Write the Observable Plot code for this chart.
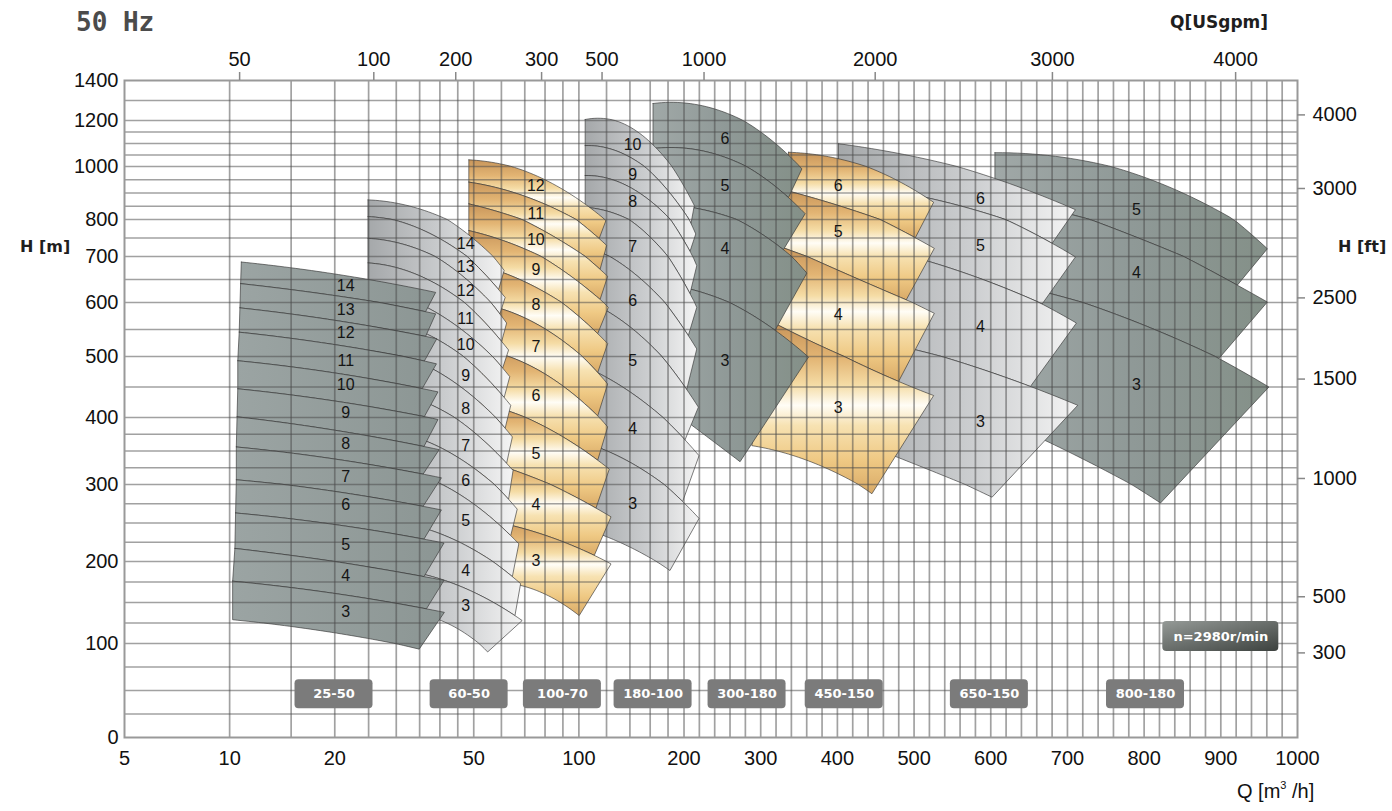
<!DOCTYPE html>
<html><head><meta charset="utf-8">
<script src="https://cdn.jsdelivr.net/npm/d3@7"></script>
<script src="https://cdn.jsdelivr.net/npm/@observablehq/plot@0.6"></script>
<style>
html,body{margin:0;padding:0;background:#fff;}
#wrap{position:relative;width:1392px;height:811px;overflow:hidden;}
#wrap svg{position:absolute;left:0;top:0;}
.t{position:absolute;white-space:nowrap;line-height:1;}
sup{font-size:11px;vertical-align:top;position:relative;top:-1px;}
</style></head><body>
<div id="wrap">
<div class="t" style="left:76px;top:7px;font:bold 26px 'DejaVu Sans Mono',monospace;color:#4b4b4b;">50 Hz</div>
<div class="t" style="left:1170px;top:12px;font:bold 17px 'DejaVu Sans',sans-serif;color:#1e1e1e;">Q[USgpm]</div>
<div class="t" style="left:20px;top:237px;font:bold 16px 'DejaVu Sans',sans-serif;color:#1e1e1e;">H [m]</div>
<div class="t" style="left:1338px;top:237px;font:bold 16px 'DejaVu Sans',sans-serif;color:#1e1e1e;">H [ft]</div>
<div class="t" style="left:1237px;top:780px;font:20px 'Liberation Sans',Arial,sans-serif;color:#111;">Q [m<sup>3</sup> /h]</div>
</div>
<script>
// ---------------- axis / tick values ----------------
const hLabels = [0,100,200,300,400,500,600,700,800,1000,1200,1400];
const qLabels = [5,10,20,50,100,200,300,400,500,600,700,800,900,1000];
const gpmLabels = ["50","100","200","300","500","1000","2000","3000","4000"];
const gpmAtQ = [10.68,25.87,44.4,78.2,116.5,226.1,449.3,680.4,919.3];
const ftLabels = ["4000","3000","2500","1500","1000","500","300"];
const ftAtH = [1228,917,610,463,309,157,90];
const gridQ = [10,15,20,25,30,35,40,45,50,60,70,80,90,100,120,140,160,180,200].concat(d3.range(220,1000,20));
const gridH = [25,50,75,100,125,150,175,200,225,250,275,300,325,350,375,400,450,500,550,600,650,700,750,800,850,900,950,1000,1050,1100,1150,1200,1300];

// ---------------- pump groups ----------------
const groupNames = ["25-50","60-50","100-70","180-100","300-180","450-150","650-150","800-180"];
const groupBoxQ = [19.9,48.5,89.7,163.1,282.2,408.9,598.2,801.8];
const boxRowH = 46;
const labelColQ = [21.5,47.4,75.3,142.5,253.5,401,586.4,790];
const speedText = "n=2980r/min";
const speedQ = 900, speedH = 108.5;

// boundary curves (top of highest stage ... bottom of stage 3), points [Q m3/h, H m]
const stages_25_50 = [14,13,12,11,10,9,8,7,6,5,4,3];
const curves_25_50 = [
 [[10.8,688],[20,662],[38.9,622]],
 [[10.75,641],[20,615],[38.9,579]],
 [[10.7,590],[20,567],[39.2,533]],
 [[10.65,545],[20,522],[39.1,488]],
 [[10.55,493],[20,473],[39.5,442]],
 [[10.55,447],[20,427],[39.5,397]],
 [[10.5,401],[20,381],[39.8,352]],
 [[10.45,356],[20,338],[40.4,310]],
 [[10.45,307],[20,291],[40.4,267]],
 [[10.4,263],[20,248],[41.1,224]],
 [[10.35,217],[20,200],[41.1,177]],
 [[10.2,176],[20,161],[41.2,138]],
 [[10.2,129],[20,113],[34.9,94]]
];
const qEnd_25_50 = [36.4,36.4,36.1,35.6,36.1,36.0,35.8,35.8,36.0,36.0,36.6,34.9];
const labelH_25_50 = [637,587,543,493,453,408,361,311,274,222,183,139];

const stages_60_50 = [14,13,12,11,10,9,8,7,6,5,4,3];
const curves_60_50 = [
 [[24.9,874],[47.4,765],[61.1,670]],
 [[24.9,811],[47.4,703],[61.5,611]],
 [[24.9,749],[47.4,652],[62.1,562]],
 [[24.9,686],[47.4,598],[62.9,512]],
 [[24.9,625],[47.4,544],[63.4,467]],
 [[24.9,571],[47.4,497],[63.8,420]],
 [[24.9,511],[47.4,444],[64.5,371]],
 [[24.9,446],[47.4,388],[64.8,321]],
 [[24.9,383],[47.4,333],[66.6,268]],
 [[24.9,324],[47.4,282],[67.3,223]],
 [[24.9,254],[47.4,221],[68.1,173]],
 [[24.9,192],[47.4,167],[68.8,128]],
 [[24.9,129],[47.4,112],[54.8,91]]
];
const qEnd_60_50 = [58.9,59.4,60.1,60.5,61.1,61.5,62.1,62.9,63.8,64.5,65.6,54.8];
const labelH_60_50 = [734,677,626,570,522,469,414,358,306,253,189,146];

const stages_100_70 = [12,11,10,9,8,7,6,5,4,3];
const curves_100_70 = [
 [[48.4,1029],[75.3,966],[119.5,797]],
 [[48.4,941],[75.3,872],[120.1,730]],
 [[48.4,859],[75.3,781],[120.9,657]],
 [[48.4,770],[75.3,707],[121.4,591]],
 [[48.4,686],[75.3,633],[120.9,524]],
 [[48.4,600],[75.3,561],[120.9,455]],
 [[48.4,514],[75.3,480],[120.9,386]],
 [[48.4,428],[75.3,393],[122.2,323]],
 [[48.4,343],[75.3,309],[123.6,258]],
 [[48.4,257],[75.3,238],[123.6,197]],
 [[48.4,171],[75.3,165],[100.2,134]]
];
const qEnd_100_70 = [114.3,115.0,115.0,113.2,113.2,113.2,113.2,111.9,110.7,100.2];
const labelH_100_70 = [928,822,745,671,596,517,436,345,273,201];

const stages_180_100 = [10,9,8,7,6,5,4,3];
const curves_180_100 = [
 [[104.2,1205],[142.5,1165],[213.4,853]],
 [[104.2,1091],[142.5,1034],[215.3,761]],
 [[104.2,966],[142.5,916],[216.6,680]],
 [[104.2,846],[142.5,793],[216.6,591]],
 [[104.2,725],[142.5,666],[216.6,514]],
 [[104.2,604],[142.5,551],[218.7,417]],
 [[104.2,483],[142.5,439],[219.6,343]],
 [[104.2,362],[142.5,331],[219.6,256]],
 [[104.2,242],[142.5,217],[182.3,189]]
];
const qEnd_180_100 = [209.1,207.8,207.8,205.6,203.5,201.3,198.2,182.3];
const labelH_180_100 = [1094,970,865,725,604,493,383,275];

const stages_300_180 = [6,5,4,3];
const curves_300_180 = [
 [[163,1285],[253.5,1240],[353.7,991]],
 [[163,1078],[253.5,1040],[358,822]],
 [[163,858],[253.5,815],[360.2,664]],
 [[163,644],[253.5,604],[362.3,499]],
 [[163,432],[253.5,351],[273.1,334]]
];
const qEnd_300_180 = [336.2,329.6,318.8,273.1];
const labelH_300_180 = [1120,928,721,493];

const stages_450_150 = [6,5,4,3];
const curves_450_150 = [
 [[336.2,1062],[401,1034],[525.5,865]],
 [[334,909],[401,853],[526.4,722]],
 [[327.5,725],[401,670],[526.4,580]],
 [[318.8,561],[401,505],[525.5,436]],
 [[288.4,358],[401,316],[445,288]]
];
const qEnd_450_150 = [501.6,489.8,479.8,445];
const labelH_450_150 = [928,766,578,416];

const stages_650_150 = [6,5,4,3];
const curves_650_150 = [
 [[401.4,1099],[586.4,973],[710.4,837]],
 [[401.4,935],[586.4,830],[710.4,699]],
 [[401.4,736],[586.4,652],[711.7,562]],
 [[401.4,543],[586.4,480],[713.4,420]],
 [[401.4,375],[477.7,341],[601.7,283.5]]
];
const qEnd_650_150 = [680,667,651.7,601.7];
const labelH_650_150 = [879,730,554,394];

const stages_800_180 = [5,4,3];
const curves_800_180 = [
 [[605.4,1060],[790,970],[960.7,721]],
 [[605.4,890],[790,752],[960.7,601]],
 [[605.4,648],[790,563.5],[962.7,450]],
 [[605.4,400],[790,296],[821.4,276]]
];
const qEnd_800_180 = [921.5,897.5,821.4];
const labelH_800_180 = [838,665,453];

// ---------------- assembly ----------------
const groups = [
 {name:"25-50", stages:stages_25_50, curves:curves_25_50, qEnd:qEnd_25_50, labelH:labelH_25_50},
 {name:"60-50", stages:stages_60_50, curves:curves_60_50, qEnd:qEnd_60_50, labelH:labelH_60_50},
 {name:"100-70", stages:stages_100_70, curves:curves_100_70, qEnd:qEnd_100_70, labelH:labelH_100_70},
 {name:"180-100", stages:stages_180_100, curves:curves_180_100, qEnd:qEnd_180_100, labelH:labelH_180_100},
 {name:"300-180", stages:stages_300_180, curves:curves_300_180, qEnd:qEnd_300_180, labelH:labelH_300_180},
 {name:"450-150", stages:stages_450_150, curves:curves_450_150, qEnd:qEnd_450_150, labelH:labelH_450_150},
 {name:"650-150", stages:stages_650_150, curves:curves_650_150, qEnd:qEnd_650_150, labelH:labelH_650_150},
 {name:"800-180", stages:stages_800_180, curves:curves_800_180, qEnd:qEnd_800_180, labelH:labelH_800_180}
];
const tileFill = {"25-50":"url(#gDark)","60-50":"url(#gLight)","100-70":"url(#gGold)","180-100":"url(#gLight)",
  "300-180":"url(#gDark2)","450-150":"url(#gGold)","650-150":"url(#gLight)","800-180":"url(#gDark2)"};

// x scale: logarithmic up to 200 m3/h, linear from 200 to 1000
const LOG200 = Math.log10(200), LIN = 0.7663/349;
const xf = q => q <= 200 ? Math.log10(q) : LOG200 + (q - 200) * LIN;

function evalCurve(pts, u){ // smooth polynomial through the read points (u = transformed Q)
  let s = 0;
  for (let i = 0; i < pts.length; i++){
    let L = 1;
    for (let j = 0; j < pts.length; j++) if (j !== i) L *= (u - pts[j][0]) / (pts[i][0] - pts[j][0]);
    s += L * pts[i][1];
  }
  return s;
}
function buildTiles(g){
  const rows = [], N = 36;
  g.stages.forEach((s, k) => {
    const id = g.name + "/" + s;
    const top = g.curves[k].map(([q,h]) => [xf(q), h]);
    const bot = g.curves[k+1].map(([q,h]) => [xf(q), h]);
    const a0 = top[0][0], a1 = top[top.length-1][0];
    for (let i = 0; i <= N; i++){ const u = a0 + (a1-a0)*i/N; rows.push({id, u, h: evalCurve(top, u)}); }
    const b1 = xf(g.qEnd[k]), b0 = bot[0][0];
    for (let i = 0; i <= N; i++){ const u = b1 + (b0-b1)*i/N; rows.push({id, u, h: evalCurve(bot, u)}); }
    rows.push({id, u: a0, h: evalCurve(top, a0)});
  });
  return rows;
}

const W = 1392, H = 811, ML = 124, MR = 95, MT = 80, MB = 74;
const FW = W - ML - MR, FH = H - MT - MB;
const marks = [];
for (const g of [...groups].reverse()){
  marks.push(Plot.line(buildTiles(g), {x:"u", y:"h", z:"id", curve:"linear",
    fill: tileFill[g.name], stroke:"#333", strokeWidth:0.8, strokeOpacity:0.8}));
}
marks.push(Plot.ruleX(gridQ, {x: d => xf(d), stroke:"#4a4a4a", strokeOpacity:0.52, strokeWidth:1.7}));
marks.push(Plot.ruleY(gridH, {y: d => d, stroke:"#4a4a4a", strokeOpacity:0.52, strokeWidth:1.7}));
marks.push(Plot.frame({stroke:"#999", strokeWidth:2}));
marks.push(Plot.tickX(gpmAtQ, {x: d => xf(d), insetTop:-8, insetBottom:FH, stroke:"#888", strokeWidth:1.5}));
marks.push(Plot.tickY(ftAtH, {y: d => d, insetLeft:FW, insetRight:-8, stroke:"#888", strokeWidth:1.5}));

const stageRows = groups.flatMap((g, gi) => g.stages.map((s, k) => ({u: xf(labelColQ[gi]), h: g.labelH[k], s: String(s)})));
marks.push(Plot.text(stageRows, {x:"u", y:"h", text:"s", fontSize:16, fill:"#151515"}));

const boxRows = groupNames.map((n, i) => ({n, u: xf(groupBoxQ[i])}));
marks.push(Plot.rect(boxRows, {x1:"u", x2:"u", y1:() => boxRowH, y2:() => boxRowH,
  insetLeft:-39, insetRight:-39, insetTop:-14.5, insetBottom:-14.5, rx:4, fill:"#7b7b7b"}));
marks.push(Plot.text(boxRows, {x:"u", y:() => boxRowH, text:"n", fill:"#fff", fontWeight:"bold", fontSize:13, fontFamily:"DejaVu Sans, sans-serif"}));
const speedRows = [{t: speedText, u: xf(speedQ), h: speedH}];
marks.push(Plot.rect(speedRows, {x1:"u", x2:"u", y1:"h", y2:"h",
  insetLeft:-58, insetRight:-58, insetTop:-15, insetBottom:-15, rx:4, fill:"url(#gSpeed)"}));
marks.push(Plot.text(speedRows, {x:"u", y:"h", text:"t", fill:"#fff", fontWeight:"bold", fontSize:13, fontFamily:"DejaVu Sans, sans-serif"}));

marks.push(Plot.text(hLabels, {y: d => d, text: d => String(d), frameAnchor:"left", lineAnchor:"middle", textAnchor:"end", dx:-6, fontSize:20, fill:"#111"}));
marks.push(Plot.text(qLabels, {x: d => xf(d), text: d => String(d), frameAnchor:"bottom", lineAnchor:"middle", dy:21, fontSize:20, fill:"#111"}));
marks.push(Plot.text(gpmLabels, {x: (d, i) => xf(gpmAtQ[i]), text: d => d, frameAnchor:"top", lineAnchor:"middle", dy:-21, fontSize:20, fill:"#111"}));
marks.push(Plot.text(ftLabels, {y: (d, i) => ftAtH[i], text: d => d, frameAnchor:"right", lineAnchor:"middle", textAnchor:"start", dx:15, fontSize:20, fill:"#111"}));

const svg = Plot.plot({
  width: W, height: H, marginLeft: ML, marginRight: MR, marginTop: MT, marginBottom: MB,
  style: {fontFamily: "'Liberation Sans', Arial, sans-serif", background: "white", overflow: "visible"},
  x: {type: "linear", domain: [xf(5), xf(1000)], axis: null},
  y: {type: "linear", domain: [0,100,200,300,400,500,600,700,800,1000,1200,1400],
      range: [737,643,561,484,417,356,302,256,219,166,120,80], axis: null},
  marks
});

const defs = d3.select(svg).insert("defs", ":first-child");
function lg(id, x2, y2, stops){
  const g = defs.append("linearGradient").attr("id", id).attr("x1", 0).attr("y1", 0).attr("x2", x2).attr("y2", y2);
  stops.forEach(([o, c]) => g.append("stop").attr("offset", o).attr("stop-color", c));
}
lg("gLight", 1, 0, [[0,"#a5a8aa"],[0.55,"#cbcdcf"],[1,"#f4f4f4"]]);
lg("gDark", 1, 0, [[0,"#9ba4a3"],[1,"#8c9694"]]);
lg("gDark2", 1, 0, [[0,"#a0a8a7"],[0.5,"#8f9997"],[1,"#849088"]]);
lg("gGold", 0, 1, [[0,"#c8955a"],[0.2,"#e2b473"],[0.36,"#f5dca5"],[0.48,"#fffdf6"],[0.6,"#f7e2b2"],[0.8,"#efc984"],[1,"#d9aa67"]]);
lg("gSpeed", 1, 1, [[0,"#959a97"],[1,"#3c413e"]]);

document.getElementById("wrap").prepend(svg);
</script>
</body></html>
